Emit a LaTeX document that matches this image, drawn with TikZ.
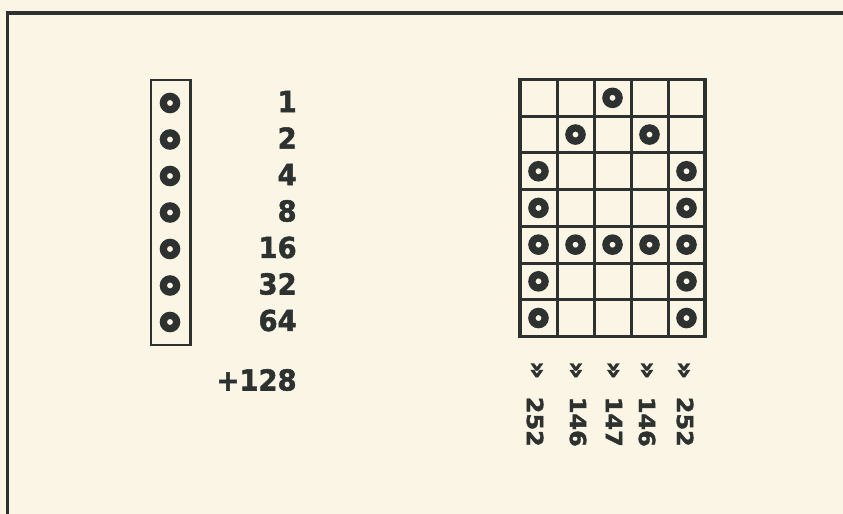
\documentclass[tikz,border=0pt]{standalone}
\usepackage{fontspec}
\usepackage{tikz}
\usetikzlibrary{positioning,calc}
\newfontfamily\numfont[FakeStretch=0.95, FakeBold=1.8]{DejaVu Sans}
\newfontfamily\colfont[FakeStretch=1.08, FakeBold=1.8]{DejaVu Sans}
\definecolor{ink}{RGB}{45,50,48}
\definecolor{paper}{RGB}{250,245,228}

\begin{document}
\begin{tikzpicture}[
    ring/.style={circle, draw=ink, fill=paper, line width=0.145cm, minimum size=0.265cm, inner sep=0pt},
    weight/.style={anchor=east, inner sep=0pt, text=ink, font=\numfont\bfseries\fontsize{16.4}{18}\selectfont},
    colsum/.style={anchor=west, rotate=-90, inner sep=0pt, text=ink, font=\colfont\bfseries\fontsize{12.6}{14}\selectfont},
    marker/.style={rotate=-90, inner sep=0pt, text=ink, font=\colfont\bfseries\fontsize{15}{17}\selectfont}
]
    % Paper and frame
    \fill[paper] (0,0) rectangle (16.86,-10.28);
    \useasboundingbox (0,0) rectangle (16.86,-10.28);
    \draw[ink, line width=0.08cm] (0.12,-0.26) -- (16.86,-0.26);
    \draw[ink, line width=0.06cm] (0.14,-0.26) -- (0.14,-10.28);

    % One column of seven holes
    \draw[ink, line width=0.045cm] (3.02,-1.6) rectangle (3.81,-6.9);
    \node[ring] (d1) at (3.40,-2.06) {};
    \node[ring] (d2) at (3.40,-2.79) {};
    \node[ring] (d3) at (3.40,-3.52) {};
    \node[ring] (d4) at (3.40,-4.25) {};
    \node[ring] (d5) at (3.40,-4.98) {};
    \node[ring] (d6) at (3.40,-5.71) {};
    \node[ring] (d7) at (3.40,-6.44) {};

    % Values of the holes
    \node[weight] (w1) at (5.94,-2.03) {1};
    \node[weight] (w2) at (5.94,-2.76) {2};
    \node[weight] (w4) at (5.94,-3.49) {4};
    \node[weight] (w8) at (5.94,-4.22) {8};
    \node[weight] (w16) at (5.94,-4.95) {16};
    \node[weight] (w32) at (5.94,-5.68) {32};
    \node[weight] (w64) at (5.94,-6.41) {64};
    \node[weight] (w128) at (5.94,-7.60) {+128};

    % Grid of five columns
    \draw[ink, line width=0.06cm, shift={(10.4,-6.73)}, xstep=0.74, ystep=0.7343] (0,0) grid (3.7,5.14);
    \draw[ink, line width=0.07cm] (10.4,-1.59) rectangle (14.1,-6.73);

    % The letter A in holes
    \node[ring] (g13) at (12.25,-1.957) {};
    \node[ring] (g22) at (11.51,-2.691) {};
    \node[ring] (g24) at (12.99,-2.691) {};
    \node[ring] (g31) at (10.77,-3.425) {};
    \node[ring] (g35) at (13.73,-3.425) {};
    \node[ring] (g41) at (10.77,-4.159) {};
    \node[ring] (g45) at (13.73,-4.159) {};
    \node[ring] (g51) at (10.77,-4.893) {};
    \node[ring] (g52) at (11.51,-4.893) {};
    \node[ring] (g53) at (12.25,-4.893) {};
    \node[ring] (g54) at (12.99,-4.893) {};
    \node[ring] (g55) at (13.73,-4.893) {};
    \node[ring] (g61) at (10.77,-5.627) {};
    \node[ring] (g65) at (13.73,-5.627) {};
    \node[ring] (g71) at (10.77,-6.361) {};
    \node[ring] (g75) at (13.73,-6.361) {};

    % Column values
    \node[marker] (m1) at (10.72,-7.40) {»};
    \node[marker] (m2) at (11.50,-7.40) {»};
    \node[marker] (m3) at (12.25,-7.40) {»};
    \node[marker] (m4) at (12.92,-7.40) {»};
    \node[marker] (m5) at (13.66,-7.40) {»};
    \node[colsum] (s1) at (10.70,-7.93) {252};
    \node[colsum] (s2) at (11.56,-7.93) {146};
    \node[colsum] (s3) at (12.28,-7.93) {147};
    \node[colsum] (s4) at (12.94,-7.93) {146};
    \node[colsum] (s5) at (13.70,-7.93) {252};
\end{tikzpicture}
\end{document}
